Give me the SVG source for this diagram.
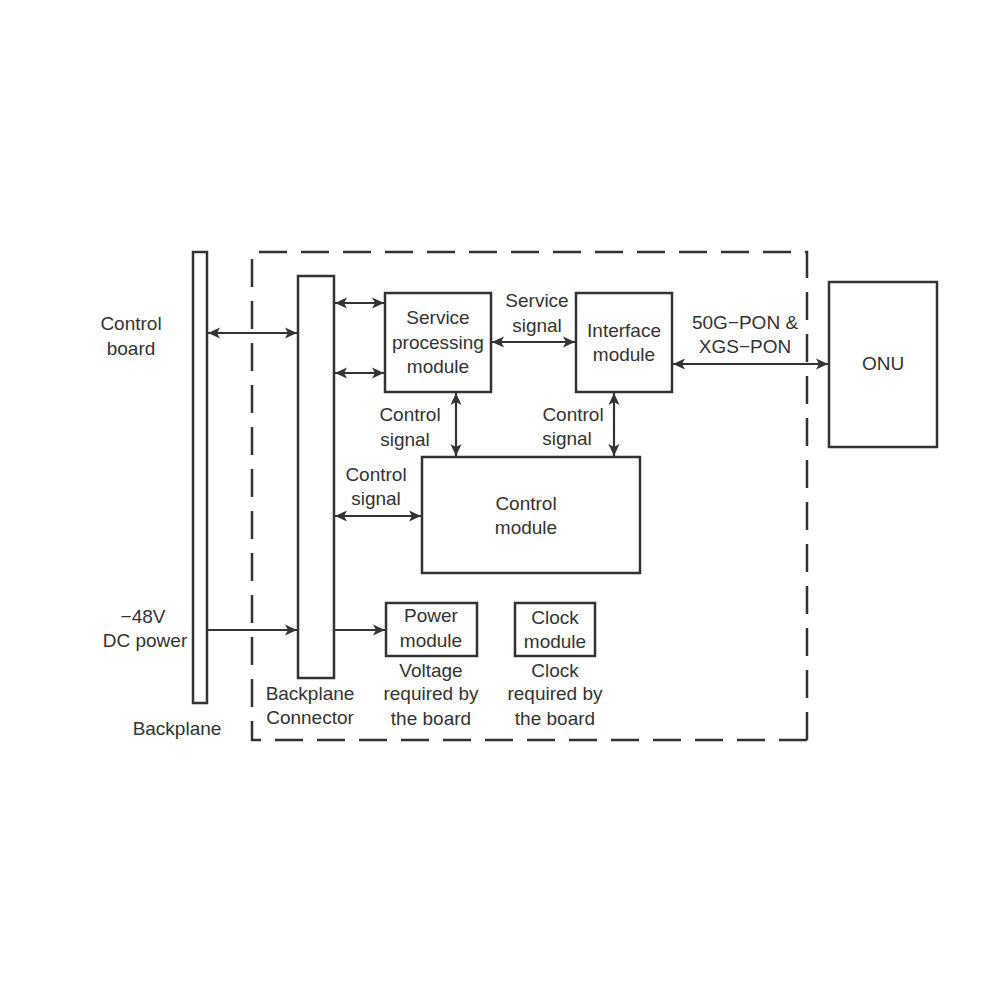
<svg xmlns="http://www.w3.org/2000/svg" width="1000" height="1000" viewBox="0 0 1000 1000">
<style>
.box{fill:#fff;stroke:#333;stroke-width:2.5}
.bar{fill:#fff;stroke:#333;stroke-width:2.5}
.dash{fill:none;stroke:#333;stroke-width:2.5;stroke-dasharray:28 14}
.ln{fill:none;stroke:#333;stroke-width:2.2}
.dbl{marker-start:url(#ah);marker-end:url(#ah)}
.one{marker-end:url(#ah)}
text{font-family:"Liberation Sans",Arial,sans-serif;font-size:19px;fill:#333;text-anchor:middle}
</style>
<defs>
<marker id="ah" markerUnits="userSpaceOnUse" markerWidth="14" markerHeight="12" refX="12" refY="6" orient="auto-start-reverse">
<path d="M0,0.5 L12,6 L0,11.5 L3,6 z" fill="#333"/>
</marker>
</defs>
<rect width="1000" height="1000" fill="#fff"/>
<g id="boundary">
<path class="dash" d="M807,740 L252,740 L252,252 L807,252 L807,740"/>
</g>
<g id="backplane">
<rect class="bar" x="193" y="252" width="14" height="451"/>
<text x="177" y="735">Backplane</text>
</g>
<g id="control-board">
<text x="131" y="330">Control</text>
<text x="131" y="355">board</text>
</g>
<g id="dc-power">
<text x="143" y="623">−48V</text>
<text x="145" y="647">DC power</text>
</g>
<g id="backplane-connector">
<rect class="bar" x="298" y="276" width="36" height="402"/>
<text x="310" y="700">Backplane</text>
<text x="310" y="724">Connector</text>
</g>
<g id="service-processing">
<rect class="box" x="385" y="293" width="106" height="99"/>
<text x="438" y="324">Service</text>
<text x="438" y="349">processing</text>
<text x="438" y="373">module</text>
</g>
<g id="interface-module">
<rect class="box" x="576" y="293" width="96" height="99"/>
<text x="624" y="337">Interface</text>
<text x="624" y="361">module</text>
</g>
<g id="control-module">
<rect class="box" x="422" y="457" width="218" height="116"/>
<text x="526" y="510">Control</text>
<text x="526" y="534">module</text>
</g>
<g id="onu">
<rect class="box" x="829" y="282" width="108" height="165"/>
<text x="883" y="370">ONU</text>
</g>
<g id="power-module">
<rect class="box" x="386" y="603" width="91" height="53"/>
<text x="431" y="622">Power</text>
<text x="431" y="647">module</text>
<text x="431" y="677">Voltage</text>
<text x="431" y="700">required by</text>
<text x="431" y="725">the board</text>
</g>
<g id="clock-module">
<rect class="box" x="515" y="603" width="80" height="53"/>
<text x="555" y="624">Clock</text>
<text x="555" y="648">module</text>
<text x="555" y="677">Clock</text>
<text x="555" y="700">required by</text>
<text x="555" y="725">the board</text>
</g>
<g id="connectors">
<line class="ln dbl" x1="208" y1="333" x2="297" y2="333"/>
<line class="ln dbl" x1="335" y1="303" x2="384" y2="303"/>
<line class="ln dbl" x1="335" y1="373" x2="384" y2="373"/>
<line class="ln dbl" x1="492" y1="342" x2="575" y2="342"/>
<line class="ln dbl" x1="673" y1="364" x2="828" y2="364"/>
<line class="ln dbl" x1="456" y1="393" x2="456" y2="456"/>
<line class="ln dbl" x1="614" y1="393" x2="614" y2="456"/>
<line class="ln dbl" x1="335" y1="516" x2="421" y2="516"/>
<line class="ln one" x1="208" y1="630" x2="297" y2="630"/>
<line class="ln one" x1="335" y1="630" x2="385" y2="630"/>
<text x="537" y="307">Service</text>
<text x="537" y="332">signal</text>
<text x="745" y="329">50G−PON &amp;</text>
<text x="745" y="353">XGS−PON</text>
<text x="410" y="421">Control</text>
<text x="405" y="446">signal</text>
<text x="573" y="421">Control</text>
<text x="567" y="445">signal</text>
<text x="376" y="481">Control</text>
<text x="376" y="505">signal</text>
</g>
</svg>
